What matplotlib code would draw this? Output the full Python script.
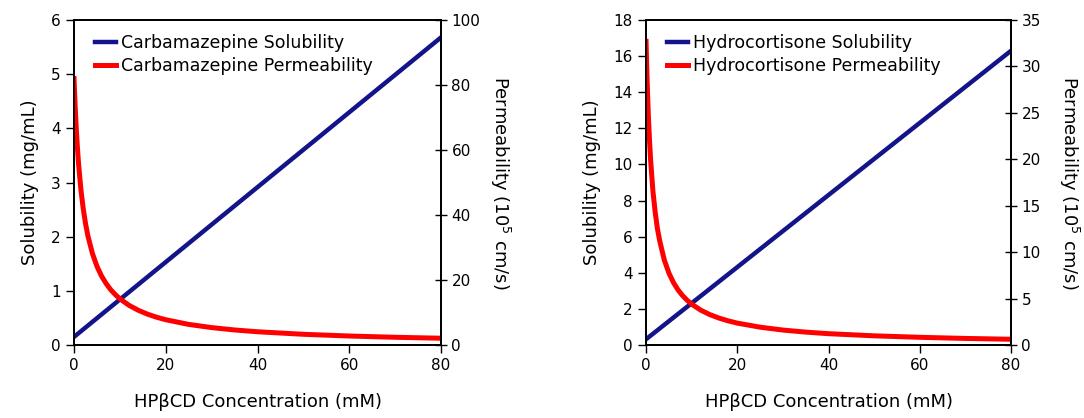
import matplotlib
matplotlib.use("Agg")
import matplotlib.pyplot as plt

# HPbCD concentration (mM)
conc = [0, 0.1, 0.25, 0.5, 0.75, 1, 1.5, 2, 2.5, 3, 4, 5, 6, 7, 8, 9, 10, 12, 14, 16, 18,
        20, 25, 30, 35, 40, 50, 60, 70, 80]

# carbamazepine
cbz_sol_x = [0, 80]
cbz_sol = [0.15, 5.68]
cbz_perm = [82.0, 78.3, 73.3, 66.2, 60.4, 55.5, 47.8, 42.0, 37.4, 33.7, 28.2, 24.2, 21.2,
            18.9, 17.0, 15.5, 14.2, 12.2, 10.7, 9.5, 8.55, 7.78, 6.34, 5.36, 4.63, 4.08,
            3.30, 2.77, 2.38, 2.09]

# hydrocortisone
hc_sol_x = [0, 80]
hc_sol = [0.32, 16.3]
hc_perm = [32.7, 30.7, 28.2, 24.7, 22.1, 19.9, 16.6, 14.3, 12.5, 11.2, 9.15, 7.76, 6.73,
           5.94, 5.32, 4.82, 4.40, 3.75, 3.27, 2.90, 2.60, 2.36, 1.92, 1.61, 1.39, 1.22,
           0.99, 0.83, 0.71, 0.62]

BLUE = "#14148a"
RED = "#ff0000"

fig = plt.figure(figsize=(10.84, 4.18), dpi=100)


def make_panel(rect, sol_x, sol, perm, ylim1, yticks1, ylim2, yticks2, name):
    ax = fig.add_axes(rect)
    ax2 = ax.twinx()
    ax.plot(sol_x, sol, color=BLUE, lw=3.2, label=name + " Solubility", zorder=3)
    # dummy for legend entry of the red curve
    ax.plot([], [], color=RED, lw=3.6, label=name + " Permeability")
    ax2.plot(conc, perm, color=RED, lw=3.6, solid_joinstyle="round")

    ax.set_xlim(0, 80)
    ax.set_xticks([0, 20, 40, 60, 80])
    ax.set_ylim(*ylim1)
    ax.set_yticks(yticks1)
    ax2.set_ylim(*ylim2)
    ax2.set_yticks(yticks2)

    ax.tick_params(labelsize=11, length=6, width=1, direction="out", colors="black")
    ax2.tick_params(labelsize=11, length=8, width=1, direction="inout")
    for a in (ax, ax2):
        for s in a.spines.values():
            s.set_linewidth(1.3)

    ax.set_xlabel("HPβCD Concentration (mM)", fontsize=13, labelpad=14)
    ax.set_ylabel("Solubility (mg/mL)", fontsize=13, labelpad=9)
    ax2.set_ylabel("Permeability (10$^5$ cm/s)", fontsize=13, rotation=270,
                   va="center", ha="center")
    ax2.yaxis.set_label_coords(1.16, 0.5)

    ax.legend(loc="upper left", frameon=False, fontsize=12.5, handlelength=1.2,
              handletextpad=0.3, labelspacing=0.3, borderaxespad=0.4,
              bbox_to_anchor=(0.02, 1.0))
    return ax, ax2


make_panel([0.0683, 0.1746, 0.3386, 0.7775], cbz_sol_x, cbz_sol, cbz_perm,
           (0, 6), range(0, 7), (0, 100), range(0, 101, 20), "Carbamazepine")
make_panel([0.596, 0.1746, 0.3367, 0.7775], hc_sol_x, hc_sol, hc_perm,
           (0, 18), range(0, 19, 2), (0, 35), range(0, 36, 5), "Hydrocortisone")

fig.savefig("out.png", dpi=100)
